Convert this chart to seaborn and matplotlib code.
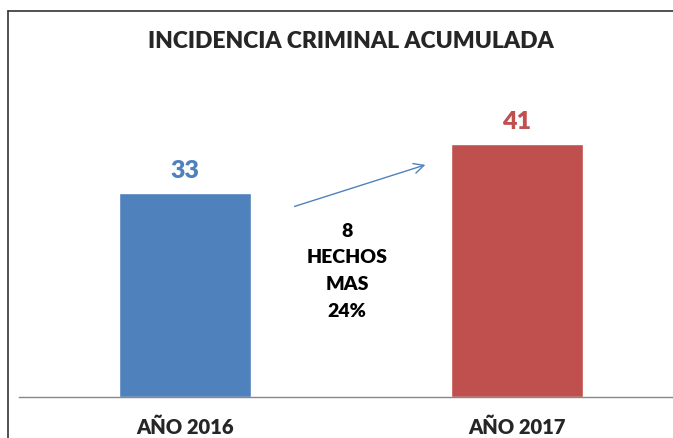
import numpy as np
import matplotlib
matplotlib.use('Agg')
import matplotlib.pyplot as plt
from matplotlib.lines import Line2D
import pandas as pd
import seaborn as sns

years = ['AÑO 2016', 'AÑO 2017']
incidents = [33, 41]
bar_colors = ['#4F81BD', '#C0504D']
title = 'INCIDENCIA CRIMINAL ACUMULADA'

df = pd.DataFrame({'year': years, 'n': incidents})
diff = incidents[1] - incidents[0]
pct = round(100 * diff / incidents[0])

sns.set_style('white')
plt.rcParams['font.family'] = ['Lato', 'DejaVu Sans']
wt = 'heavy'

W, H = 673, 439
fig = plt.figure(figsize=(W / 100, H / 100), dpi=100)
ax = fig.add_axes([19 / W, 41 / H, 664 / W, 309 / H])

sns.barplot(data=df, x='year', y='n', hue='year', palette=bar_colors,
            width=0.4, saturation=1, legend=False, ax=ax)
ax.set_xlim(-0.5, 1.5)
ax.set_ylim(0, 50)

# value labels on top of bars
for i, (v, c) in enumerate(zip(incidents, bar_colors)):
    ax.annotate(str(v), (i, v), xytext=(0, 16.5), textcoords='offset points',
                ha='center', va='center', color=c, fontsize=18, fontweight=wt)

# arrow + note between bars
ax.annotate('', xy=(0.732, 37.7), xytext=(0.322, 30.7),
            arrowprops=dict(arrowstyle='->', color='#4F81BD', lw=1,
                            mutation_scale=18))
ax.text(0.488, 20.5, f'{diff}\nHECHOS\nMAS\n{pct}%', ha='center', va='center',
        fontsize=14, fontweight=wt, linespacing=1.7, color='black')

# axes look
for s in ['top', 'right', 'left']:
    ax.spines[s].set_visible(False)
ax.spines['bottom'].set_color('#888888')
ax.spines['bottom'].set_linewidth(1)
ax.set_yticks([])
ax.set_xlabel('')
ax.set_ylabel('')
ax.set_xticks([-0.5, 0.5, 1.5], minor=True)
ax.tick_params(axis='x', which='major', length=0, pad=14, labelsize=14.5)
ax.tick_params(axis='x', which='minor', length=6, width=1, color='#888888',
               direction='out')
for lbl in ax.get_xticklabels():
    lbl.set_fontweight(wt)

fig.text(351 / W, 1 - 42 / H, title, ha='center', va='center',
         fontsize=16.5, fontweight=wt)

# outer chart frame (cropped on right/bottom)
fig.add_artist(Line2D([8 / W, 1], [1 - 12 / H, 1 - 12 / H], color='#333333', lw=1.2))
fig.add_artist(Line2D([8 / W, 8 / W], [0, 1 - 12 / H], color='#333333', lw=1.2))

fig.savefig('out.png', dpi=100)
